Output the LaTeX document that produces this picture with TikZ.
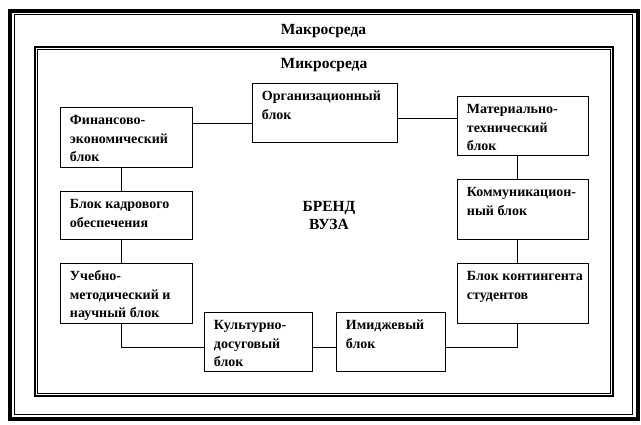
\documentclass[tikz,border=0pt]{standalone}
\usepackage{fontspec}
\setmainfont{Liberation Serif}
\newcommand\bt[3]{\parbox[c][#2pt][t]{#1pt}{\fontsize{14}{18.5}\selectfont\bfseries\leftskip=9.5pt\vspace*{4.5pt}\strut #3}}
\begin{document}
\begin{tikzpicture}[x=1pt,y=-1pt,
  blk/.style={draw, line width=0.9pt, inner sep=0pt, anchor=north west},
  conn/.style={line width=0.9pt},
  ttl/.style={font=\fontsize{15.5}{17.5}\selectfont\bfseries, inner sep=0pt}]
\useasboundingbox (0,0) rectangle (641,425);
% frames
\draw[line width=4pt] (10,11) rectangle (637.5,419);
\draw[line width=1pt] (14.7,15) rectangle (632.5,414.3);
\draw[line width=2pt] (35,47.5) rectangle (613,396.2);
\draw[line width=1pt] (37.6,50) rectangle (610.7,393.3);
% titles
\node[ttl] (makro) at (323.5,31.5) {Макросреда};
\node[ttl] (mikro) at (324,65) {Микросреда};
\node[ttl, align=center] (brand) at (329,215.5) {БРЕНД\\ВУЗА};
% blocks
\node[blk] (org) at (252,83) {\bt{144.5}{59.5}{Организационный\\блок}};
\node[blk] (fin) at (60,107) {\bt{132}{60}{Финансово-\\экономический\\блок}};
\node[blk] (mat) at (457,96) {\bt{131}{59}{Материально-\\технический\\блок}};
\node[blk] (kad) at (60,191) {\bt{132}{48}{Блок кадрового\\обеспечения}};
\node[blk] (kom) at (457,179) {\bt{131}{60}{Коммуникацион-\\ный блок}};
\node[blk] (ucheb) at (60,263) {\bt{132}{60}{Учебно-\\методический и\\научный блок}};
\node[blk] (kont) at (457,263) {\bt{131}{60}{Блок контингента\\студентов}};
\node[blk] (kult) at (204,312) {\bt{108}{59}{Культурно-\\досуговый\\блок}};
\node[blk] (imid) at (336,312) {\bt{109}{59}{Имиджевый\\блок}};
% connectors
\draw[conn] ([yshift=-16pt]fin.north east) coordinate (c1) -- (c1 -| org.west);
\draw[conn] ([yshift=-35pt]org.north east) coordinate (c2) -- (c2 -| mat.west);
\draw[conn] ([xshift=61pt]fin.south west) coordinate (c3) -- (c3 |- kad.north);
\draw[conn] ([xshift=61pt]kad.south west) coordinate (c4) -- (c4 |- ucheb.north);
\draw[conn] ([xshift=61pt]ucheb.south west) |- ([yshift=-35.5pt]kult.north west);
\draw[conn] ([yshift=-35.5pt]kult.north east) coordinate (c5) -- (c5 -| imid.west);
\draw[conn] ([xshift=60pt]mat.south west) coordinate (c6) -- (c6 |- kom.north);
\draw[conn] ([xshift=60pt]kom.south west) coordinate (c7) -- (c7 |- kont.north);
\draw[conn] ([xshift=60pt]kont.south west) |- ([yshift=-35.5pt]imid.north east);
\end{tikzpicture}
\end{document}
